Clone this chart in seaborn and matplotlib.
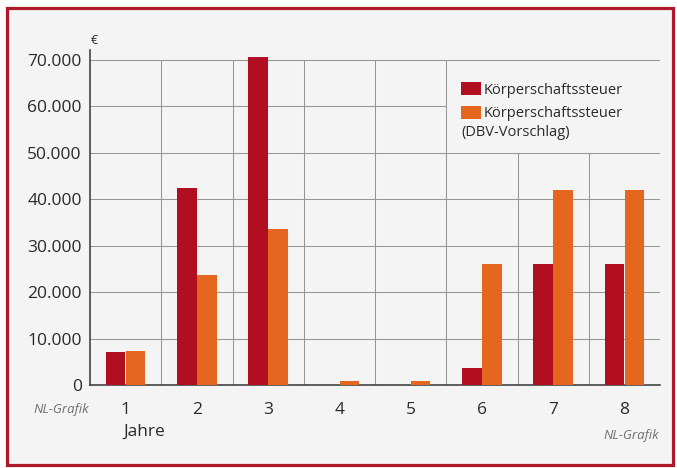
import matplotlib
matplotlib.use("Agg")
import matplotlib.pyplot as plt
import seaborn as sns
import pandas as pd
from matplotlib.patches import Rectangle, Patch

# ---- data ----
years = ["1", "2", "3", "4", "5", "6", "7", "8"]
kst = [7200, 42400, 70600, 0, 0, 3600, 26000, 26000]
kst_dbv = [7400, 23700, 33500, 800, 800, 26000, 42000, 42000]
series_names = ["Körperschaftssteuer", "Körperschaftssteuer (DBV-Vorschlag)"]
y_ticks = [0, 10000, 20000, 30000, 40000, 50000, 60000, 70000]
y_tick_labels = ["0", "10.000", "20.000", "30.000", "40.000", "50.000", "60.000", "70.000"]

df = pd.DataFrame({
    "Jahr": years * 2,
    "Wert": kst + kst_dbv,
    "Serie": [series_names[0]] * len(years) + [series_names[1]] * len(years),
})

RED = "#B10F21"
ORANGE = "#E5661E"
BG = "#F4F4F4"
GRID = "#969696"
TXT = "#2A2A2A"

sns.set_style("white")
plt.rcParams["font.family"] = ["Open Sans", "DejaVu Sans"]

fig = plt.figure(figsize=(6.77, 4.68), dpi=100)
fig.patch.set_facecolor("white")
W, H = 677, 468

# scanned frame
fig.patches.append(Rectangle((7 / W, 1 - 465 / H), 666 / W, 457 / H,
                             transform=fig.transFigure, facecolor=BG,
                             edgecolor="#AE1A2C", linewidth=2.3, zorder=-5))

ax = fig.add_axes([90 / W, 1 - 385 / H, 570 / W, 335 / H])
ax.set_facecolor("none")
ax.set_zorder(2)

sns.barplot(data=df, x="Jahr", y="Wert", hue="Serie", palette=[RED, ORANGE],
            width=0.56, gap=0.02, saturation=1, ax=ax, legend=False, zorder=3,
            linewidth=0, edgecolor="none")

ax.set_xlim(-0.5, 7.5)
ax.set_ylim(0, 72150)

# grid (legend region left clear as in the original)
for t in y_ticks[1:]:
    xmax = 4.5 if t == 60000 else 7.5
    ax.hlines(t, -0.5, xmax, color=GRID, lw=0.75, zorder=1)
for i in range(1, len(years)):
    b = i - 0.5
    top = 50000 if b > 5 else 70000
    ax.vlines(b, 0, top, color=GRID, lw=0.75, zorder=1)

ax.set_yticks(y_ticks)
ax.set_yticklabels(y_tick_labels)
ax.tick_params(axis="y", length=0, pad=6, labelsize=12.5, labelcolor=TXT)
ax.tick_params(axis="x", length=0, pad=12, labelsize=12.5, labelcolor=TXT)
ax.set_xlabel("")
ax.set_ylabel("")

for s in ["top", "right"]:
    ax.spines[s].set_visible(False)
for s in ["left", "bottom"]:
    ax.spines[s].set_color("#333333")
    ax.spines[s].set_linewidth(1.1)

# legend
handles = [Patch(facecolor=RED, edgecolor="none"), Patch(facecolor=ORANGE, edgecolor="none")]
leg = ax.legend(handles, ["Körperschaftssteuer", "Körperschaftssteuer"],
                loc="upper left", bbox_to_anchor=(461 / W, 1 - 82 / H),
                bbox_transform=fig.transFigure, frameon=False, fontsize=10.5,
                handlelength=1.4, handleheight=1.0, handletextpad=0.15,
                labelspacing=0.55, borderpad=0, borderaxespad=0,
                labelcolor=TXT)
fig.text(461 / W, 1 - 133 / H, "(DBV-Vorschlag)", fontsize=10.5, color=TXT,
         ha="left", va="center")

# annotations
fig.text(94 / W, 1 - 40 / H, "€", fontsize=9, color=TXT, ha="center", va="center")
fig.text(123 / W, 1 - 432 / H, "Jahre", fontsize=12.5, color=TXT, ha="left", va="center")
fig.text(33 / W, 1 - 410 / H, "NL-Grafik", fontsize=9.5, color="#6E6E6E",
         style="italic", ha="left", va="center")
fig.text(659 / W, 1 - 435 / H, "NL-Grafik", fontsize=9.5, color="#6E6E6E",
         style="italic", ha="right", va="center")

fig.savefig("out.png", dpi=100, facecolor=fig.get_facecolor())
